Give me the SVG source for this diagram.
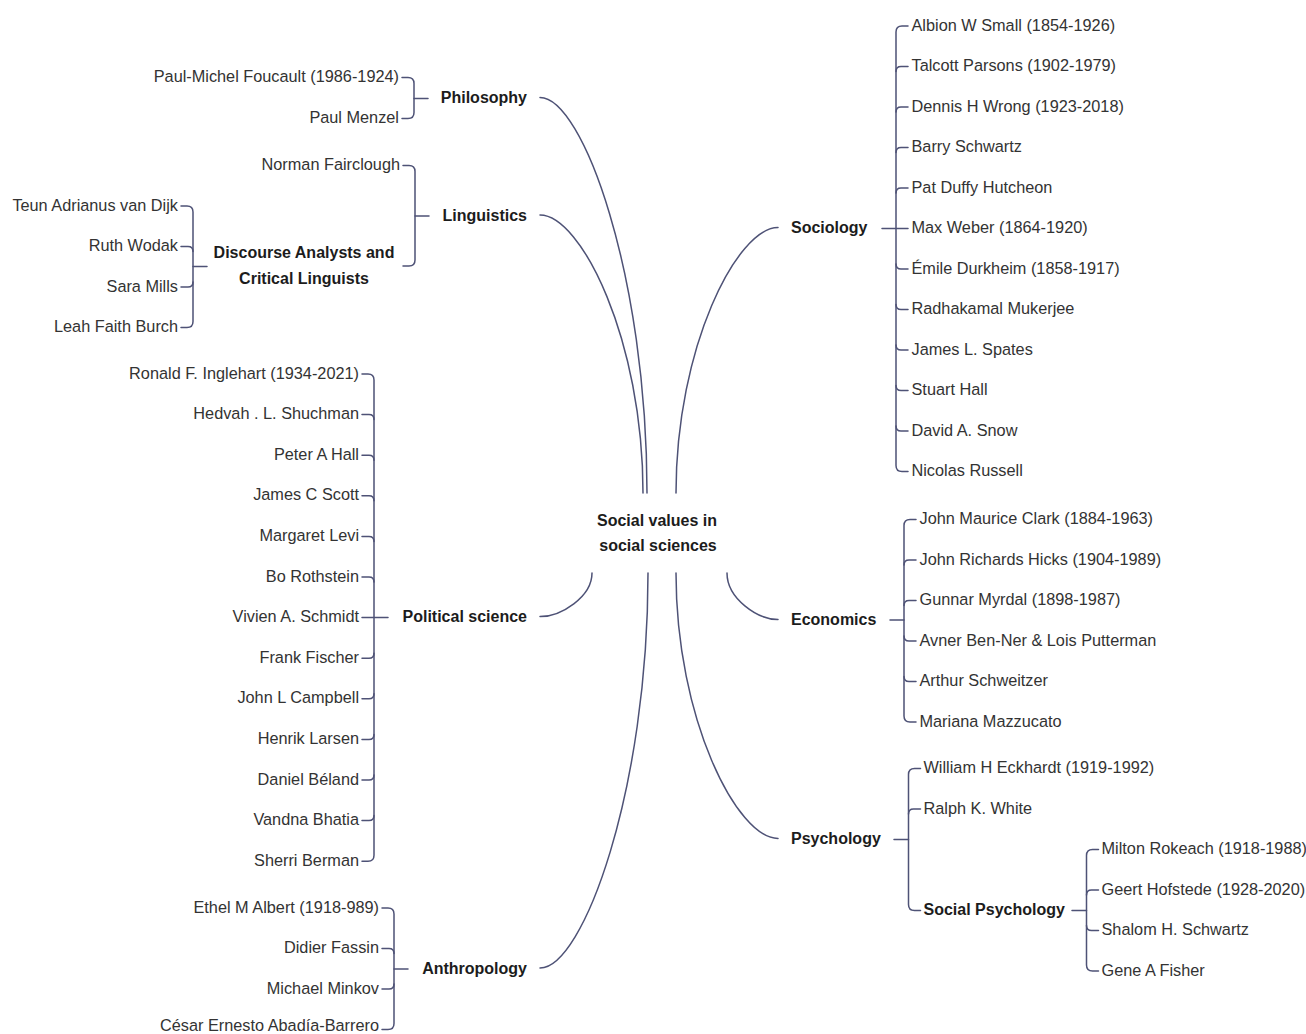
<svg xmlns="http://www.w3.org/2000/svg" width="1306" height="1034" viewBox="0 0 1306 1034">
  <style>
    .bg { fill: #ffffff; }
    .link { fill: none; stroke: #4e5276; stroke-width: 1.5; stroke-linecap: round; }
    .leaf { font-family: "Liberation Sans", Arial, sans-serif; font-size: 16.3px; fill: #333333; }
    .cat { font-family: "Liberation Sans", Arial, sans-serif; font-size: 16px; font-weight: bold; fill: #1c1c1c; }
    .l { text-anchor: end; }
    .m { text-anchor: middle; }
  </style>
  <rect class="bg" x="0" y="0" width="1306" height="1034"/>

  <g id="connectors">
    <!-- curves from the root to each discipline -->
    <path class="link" d="M540,97.5 C582.8,97.5 647,275.5 647,493"/>
    <path class="link" d="M540,215 C581.2,215 643,340 643,493"/>
    <path class="link" d="M778,227.5 C737.2,227.5 676,347 676,493"/>
    <path class="link" d="M540,616.6 C560.8,616.6 592,597 592,573"/>
    <path class="link" d="M540,968 C583.2,968 648,790 648,573"/>
    <path class="link" d="M778,619.5 C757.6,619.5 727,598.6 727,573"/>
    <path class="link" d="M778,838.5 C737.2,838.5 676,719 676,573"/>

    <!-- Philosophy bracket -->
    <path class="link" d="M402,77.5 H408 Q414,77.5 414,83.5 V112.5 Q414,118.5 408,118.5 H402"/>
    <path class="link" d="M414,98.5 H428"/>

    <!-- Linguistics bracket -->
    <path class="link" d="M403,165.5 H409 Q415,165.5 415,171.5 V260 Q415,266 409,266 H403"/>
    <path class="link" d="M415,216 H429"/>

    <!-- Discourse analysts bracket -->
    <path class="link" d="M181,206 H187 Q193,206 193,212 V321.5 Q193,327.5 187,327.5 H181"/>
    <path class="link" d="M181,246.5 H188 Q193,246.5 193,251.5"/>
    <path class="link" d="M181,287 H188 Q193,287 193,282"/>
    <path class="link" d="M193,266.5 H207"/>

    <!-- Political science bracket -->
    <path class="link" d="M362,374 H368 Q374,374 374,380 V855.2 Q374,861.2 368,861.2 H362"/>
    <path class="link" d="M362,414.6 H369 Q374,414.6 374,419.6"/>
    <path class="link" d="M362,455.2 H369 Q374,455.2 374,460.2"/>
    <path class="link" d="M362,495.8 H369 Q374,495.8 374,500.8"/>
    <path class="link" d="M362,536.4 H369 Q374,536.4 374,541.4"/>
    <path class="link" d="M362,577 H369 Q374,577 374,582"/>
    <path class="link" d="M362,617.6 H388"/>
    <path class="link" d="M362,658.2 H369 Q374,658.2 374,653.2"/>
    <path class="link" d="M362,698.8 H369 Q374,698.8 374,693.8"/>
    <path class="link" d="M362,739.4 H369 Q374,739.4 374,734.4"/>
    <path class="link" d="M362,780 H369 Q374,780 374,775"/>
    <path class="link" d="M362,820.6 H369 Q374,820.6 374,815.6"/>

    <!-- Anthropology bracket -->
    <path class="link" d="M382,908 H388 Q394,908 394,914 V1023.5 Q394,1029.5 388,1029.5 H382"/>
    <path class="link" d="M382,948.5 H389 Q394,948.5 394,953.5"/>
    <path class="link" d="M382,989 H389 Q394,989 394,984"/>
    <path class="link" d="M394,969 H408"/>

    <!-- Sociology bracket -->
    <path class="link" d="M908,26 H902 Q896,26 896,32 V465.5 Q896,471.5 902,471.5 H908"/>
    <path class="link" d="M896,71.5 Q896,66.5 901,66.5 H908"/>
    <path class="link" d="M896,112 Q896,107 901,107 H908"/>
    <path class="link" d="M896,152.5 Q896,147.5 901,147.5 H908"/>
    <path class="link" d="M896,193 Q896,188 901,188 H908"/>
    <path class="link" d="M882,228.5 H908"/>
    <path class="link" d="M896,264 Q896,269 901,269 H908"/>
    <path class="link" d="M896,304.5 Q896,309.5 901,309.5 H908"/>
    <path class="link" d="M896,345 Q896,350 901,350 H908"/>
    <path class="link" d="M896,385.5 Q896,390.5 901,390.5 H908"/>
    <path class="link" d="M896,426 Q896,431 901,431 H908"/>

    <!-- Economics bracket -->
    <path class="link" d="M916,519.5 H910 Q904,519.5 904,525.5 V716 Q904,722 910,722 H916"/>
    <path class="link" d="M904,565 Q904,560 909,560 H916"/>
    <path class="link" d="M904,605.5 Q904,600.5 909,600.5 H916"/>
    <path class="link" d="M904,636 Q904,641 909,641 H916"/>
    <path class="link" d="M904,676.5 Q904,681.5 909,681.5 H916"/>
    <path class="link" d="M890,620 H904"/>

    <!-- Psychology bracket -->
    <path class="link" d="M920.5,768.5 H914.5 Q908.5,768.5 908.5,774.5 V904.5 Q908.5,910.5 914.5,910.5 H920.5"/>
    <path class="link" d="M908.5,814 Q908.5,809 913.5,809 H920.5"/>
    <path class="link" d="M894,839.5 H908.5"/>

    <!-- Social psychology bracket -->
    <path class="link" d="M1098.5,849.5 H1092.5 Q1086.5,849.5 1086.5,855.5 V965 Q1086.5,971 1092.5,971 H1098.5"/>
    <path class="link" d="M1086.5,895 Q1086.5,890 1091.5,890 H1098.5"/>
    <path class="link" d="M1086.5,925.5 Q1086.5,930.5 1091.5,930.5 H1098.5"/>
    <path class="link" d="M1072,910.5 H1086.5"/>
  </g>

  <g id="root">
    <text class="cat m" x="657" y="525.7">Social values in</text>
    <text class="cat m" x="658" y="551.4">social sciences</text>
  </g>

  <g id="philosophy">
    <text class="cat l" x="527" y="103">Philosophy</text>
  </g>
  <g id="philosophy-people">
    <text class="leaf l" x="399" y="82">Paul-Michel Foucault (1986-1924)</text>
    <text class="leaf l" x="399" y="123">Paul Menzel</text>
  </g>

  <g id="linguistics">
    <text class="cat l" x="527" y="220.5">Linguistics</text>
  </g>
  <g id="linguistics-people">
    <text class="leaf l" x="400" y="170">Norman Fairclough</text>
  </g>
  <g id="discourse-analysts">
    <text class="cat m" x="304" y="258.2">Discourse Analysts and</text>
    <text class="cat m" x="304" y="284">Critical Linguists</text>
  </g>
  <g id="discourse-people">
    <text class="leaf l" x="178" y="210.5">Teun Adrianus van Dijk</text>
    <text class="leaf l" x="178" y="251">Ruth Wodak</text>
    <text class="leaf l" x="178" y="291.5">Sara Mills</text>
    <text class="leaf l" x="178" y="332">Leah Faith Burch</text>
  </g>

  <g id="political-science">
    <text class="cat l" x="527" y="622.1">Political science</text>
  </g>
  <g id="political-people">
    <text class="leaf l" x="359" y="378.5">Ronald F. Inglehart (1934-2021)</text>
    <text class="leaf l" x="359" y="419.1">Hedvah . L. Shuchman</text>
    <text class="leaf l" x="359" y="459.7">Peter A Hall</text>
    <text class="leaf l" x="359" y="500.3">James C Scott</text>
    <text class="leaf l" x="359" y="540.9">Margaret Levi</text>
    <text class="leaf l" x="359" y="581.5">Bo Rothstein</text>
    <text class="leaf l" x="359" y="622.1">Vivien A. Schmidt</text>
    <text class="leaf l" x="359" y="662.7">Frank Fischer</text>
    <text class="leaf l" x="359" y="703.3">John L Campbell</text>
    <text class="leaf l" x="359" y="743.9">Henrik Larsen</text>
    <text class="leaf l" x="359" y="784.5">Daniel Béland</text>
    <text class="leaf l" x="359" y="825.1">Vandna Bhatia</text>
    <text class="leaf l" x="359" y="865.7">Sherri Berman</text>
  </g>

  <g id="anthropology">
    <text class="cat l" x="527" y="973.5">Anthropology</text>
  </g>
  <g id="anthropology-people">
    <text class="leaf l" x="379" y="912.5">Ethel M Albert (1918-989)</text>
    <text class="leaf l" x="379" y="953">Didier Fassin</text>
    <text class="leaf l" x="379" y="993.5">Michael Minkov</text>
    <text class="leaf l" x="379" y="1031">César Ernesto Abadía-Barrero</text>
  </g>

  <g id="sociology">
    <text class="cat" x="791" y="233">Sociology</text>
  </g>
  <g id="sociology-people">
    <text class="leaf" x="911.5" y="30.5">Albion W Small (1854-1926)</text>
    <text class="leaf" x="911.5" y="71">Talcott Parsons (1902-1979)</text>
    <text class="leaf" x="911.5" y="111.5">Dennis H Wrong (1923-2018)</text>
    <text class="leaf" x="911.5" y="152">Barry Schwartz</text>
    <text class="leaf" x="911.5" y="192.5">Pat Duffy Hutcheon</text>
    <text class="leaf" x="911.5" y="233">Max Weber (1864-1920)</text>
    <text class="leaf" x="911.5" y="273.5">Émile Durkheim (1858-1917)</text>
    <text class="leaf" x="911.5" y="314">Radhakamal Mukerjee</text>
    <text class="leaf" x="911.5" y="354.5">James L. Spates</text>
    <text class="leaf" x="911.5" y="395">Stuart Hall</text>
    <text class="leaf" x="911.5" y="435.5">David A. Snow</text>
    <text class="leaf" x="911.5" y="476">Nicolas Russell</text>
  </g>

  <g id="economics">
    <text class="cat" x="791" y="625">Economics</text>
  </g>
  <g id="economics-people">
    <text class="leaf" x="919.5" y="524">John Maurice Clark (1884-1963)</text>
    <text class="leaf" x="919.5" y="564.5">John Richards Hicks (1904-1989)</text>
    <text class="leaf" x="919.5" y="605">Gunnar Myrdal (1898-1987)</text>
    <text class="leaf" x="919.5" y="645.5">Avner Ben-Ner &amp; Lois Putterman</text>
    <text class="leaf" x="919.5" y="686">Arthur Schweitzer</text>
    <text class="leaf" x="919.5" y="726.5">Mariana Mazzucato</text>
  </g>

  <g id="psychology">
    <text class="cat" x="791" y="844">Psychology</text>
  </g>
  <g id="psychology-people">
    <text class="leaf" x="923.5" y="773">William H Eckhardt (1919-1992)</text>
    <text class="leaf" x="923.5" y="813.5">Ralph K. White</text>
  </g>
  <g id="social-psychology">
    <text class="cat" x="923.5" y="915">Social Psychology</text>
  </g>
  <g id="social-psychology-people">
    <text class="leaf" x="1101.5" y="854">Milton Rokeach (1918-1988)</text>
    <text class="leaf" x="1101.5" y="894.5">Geert Hofstede (1928-2020)</text>
    <text class="leaf" x="1101.5" y="935">Shalom H. Schwartz</text>
    <text class="leaf" x="1101.5" y="975.5">Gene A Fisher</text>
  </g>
</svg>
